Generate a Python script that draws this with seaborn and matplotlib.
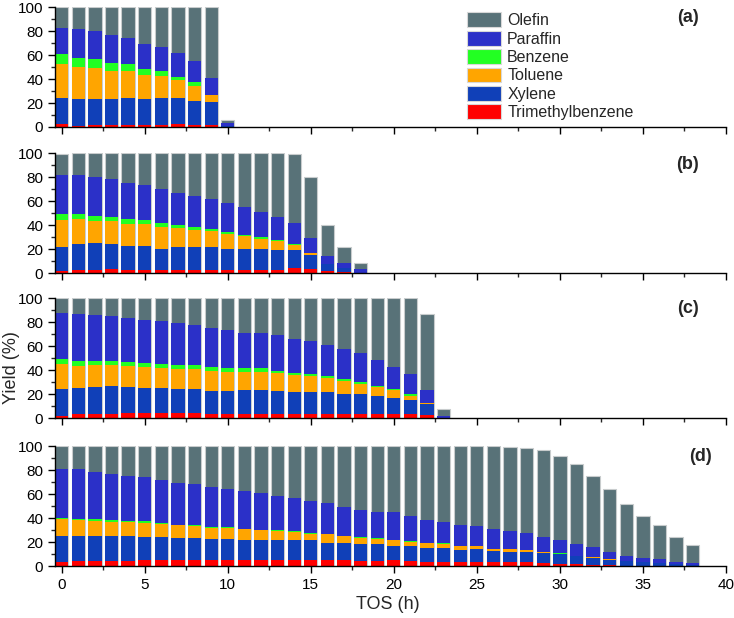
"""
Stacked yield vs TOS for four catalysts, panels (a)-(d).
Values are stack boundaries (cumulative %) read off the figure.
"""

import numpy as np
import matplotlib.pyplot as plt
import seaborn as sns
from matplotlib.patches import Patch
from matplotlib.ticker import MultipleLocator

# ── Dados (limites cumulativos das camadas, %) ───────────────────────────────

# painel (a): TOS 0..10 h
a_tmb = [2.2, 1.0, 1.7, 1.7, 2.0, 2.0, 2.0, 2.8, 2.0, 2.0, 0.0]
a_xyl = [24, 23, 23.7, 23.5, 24.6, 23, 24, 24.6, 21.8, 21.2, 1.0]
a_tol = [52.5, 50, 49, 47, 47, 43.6, 42.5, 39, 34.4, 26.3, 1.0]
a_ben = [61, 57.5, 56.7, 53.6, 52.8, 48.6, 47, 42, 37.7, 27, 1.0]
a_par = [82.7, 82, 80, 77, 74, 69.5, 66.8, 61.7, 54.7, 41, 3.0]
a_tot = [100, 100, 100, 100, 100, 100, 100, 100, 100, 100, 5.5]

# painel (b): TOS 0..18 h
b_tmb = [2, 3, 3, 3.3, 3, 3, 2.8, 2.8, 3, 3, 3, 3, 3, 3, 3.9, 3.6, 2, 1, 0]
b_xyl = [22, 24.4, 25, 24.7, 22.8, 22.8, 20.5, 21.7, 21.4, 21.4, 20.3, 20, 20,
         19.2, 19.4, 15, 7.8, 4.4, 0.3]
b_tol = [44, 45, 43.6, 43.3, 41.4, 40.8, 38.3, 37.8, 35.8, 35, 32.8, 30.8, 28.9,
         26.9, 23.3, 16.7, 7.8, 4.4, 0.3]
b_ben = [49, 49.4, 47.8, 47.2, 45, 44.4, 42, 40.5, 38.3, 37, 34.4, 32.2, 30,
         27.5, 24, 17, 7.8, 4.4, 0.3]
b_par = [82, 82, 80.5, 78.3, 75.5, 73.9, 70.3, 67.2, 64.4, 61.7, 58.3, 55, 51.4,
         47, 42.2, 29.7, 14.4, 8.6, 3.3]
b_tot = [99.5, 100, 100, 100, 100, 100, 100, 100, 100, 100, 100, 100, 100, 100,
         99.4, 80.5, 40.3, 21.7, 8.6]

# painel (c): TOS 0..23 h
c_tmb = [1.9, 3, 3.3, 3.6, 3.9, 3.9, 3.9, 3.9, 3.9, 3.3, 3.3, 3.3, 3.3, 3.3,
         3.6, 3.3, 3.3, 3, 3, 3, 3, 3, 2.2, 0]
c_xyl = [24.6, 25.1, 26.2, 26.8, 26.2, 24.9, 24.9, 24.3, 24.3, 22.9, 22.9, 23.5,
         23.5, 22.7, 21.5, 22.1, 21.3, 20.2, 20.2, 18.5, 16.9, 15.2, 11.6, 0.3]
c_tol = [44.8, 43.4, 44.2, 43.9, 43.4, 42.5, 42, 41.2, 41.2, 39.2, 38.7, 38.7,
         38.7, 37.3, 35.9, 35, 33.1, 31.2, 28.5, 26.2, 23.5, 18.2, 12.4, 0.3]
c_ben = [48.9, 47.2, 47.8, 47.2, 46.7, 45.6, 45, 44.2, 43.9, 42.3, 41.7, 41.4,
         41.4, 39.5, 37.6, 36.5, 34.8, 32.3, 29.8, 27, 24, 20.2, 12.7, 0.3]
c_par = [87.3, 86.5, 85.6, 84.8, 83.1, 82, 80.7, 79, 77.3, 74.9, 73.2, 71, 71,
         69, 66.3, 64.4, 61, 57.5, 53.9, 48, 42.5, 37, 23.2, 1.4]
c_tot = [100] * 22 + [87, 7.7]

# painel (d): TOS 0..38 h
d_tmb = [3.6, 3.9, 4.1, 4.1, 4.4, 4.7, 4.7, 4.7, 5, 4.7, 5, 5, 5, 5, 5, 5.2, 5,
         5, 4.4, 4.4, 4.7, 4.1, 3.6, 3.6, 3.6, 3.6, 3.3, 3, 3, 2.2, 1.9, 1.7,
         1.1, 0.6, 0.3, 0.3, 0, 0, 0]
d_xyl = [25.1, 24.9, 25.1, 24.9, 24.9, 24.3, 23.8, 23.2, 23.5, 22.4, 22.4, 22.1,
         21.8, 21.8, 21.3, 21.3, 19.6, 19.1, 18, 18, 17.1, 16.6, 15.2, 15.2,
         13.5, 13.8, 12.4, 11.9, 11.6, 10.5, 9.7, 8.3, 6.9, 5.2, 4.1, 3.6, 2.5,
         1.4, 1.1]
d_tol = [39, 38.1, 37.8, 37, 36.7, 35.9, 35.1, 34, 33.4, 31.8, 32, 30.7, 29.8,
         29.6, 28.5, 27.1, 26.5, 25.1, 23.5, 22.9, 21.8, 20.4, 18.8, 18.2, 16.6,
         16.6, 14.4, 13.8, 13.3, 11.3, 10.2, 8.6, 7.2, 5.5, 4.1, 3.6, 2.5, 1.4,
         1.1]
d_ben = [40.3, 39.5, 39.2, 38.4, 37.8, 37.3, 35.9, 34.5, 34.3, 32.3, 32.9, 31.2,
         30.1, 30.1, 29, 27.6, 26.8, 25.4, 23.8, 23.5, 22.1, 20.7, 19.3, 18.8,
         16.9, 16.9, 14.6, 14.1, 13.5, 11.6, 10.5, 8.6, 7.2, 5.5, 4.1, 3.6, 2.5,
         1.4, 1.1]
d_par = [81.2, 80.7, 78.2, 77.1, 75.4, 74, 72.1, 69.6, 68.5, 65.7, 64.6, 62.7,
         60.8, 58.8, 56.4, 54.1, 52.2, 49.2, 47, 45, 44.8, 41.4, 38.7, 37, 34.5,
         33.1, 30.9, 29.6, 27.6, 24.6, 22.1, 18, 15.5, 11.9, 8.6, 6.4, 5.5, 3.6,
         2.8]
d_tot = [100] * 27 + [99.4, 98.6, 96.4, 92, 84.8, 75.1, 64.1, 51.9, 41.7, 34.3,
                      24, 17.7]

PANELS = [
    ("(a)", [a_tot, a_par, a_ben, a_tol, a_xyl, a_tmb]),
    ("(b)", [b_tot, b_par, b_ben, b_tol, b_xyl, b_tmb]),
    ("(c)", [c_tot, c_par, c_ben, c_tol, c_xyl, c_tmb]),
    ("(d)", [d_tot, d_par, d_ben, d_tol, d_xyl, d_tmb]),
]

SERIES = ["Olefin", "Paraffin", "Benzene", "Toluene", "Xylene", "Trimethylbenzene"]
COLORS = ["#587278", "#2b30c8", "#22ff22", "#ffa500", "#1040b8", "#ff0000"]

# ── Estilo ────────────────────────────────────────────────────────────────────

sns.set_theme(style="ticks")
plt.rcParams["font.family"] = ["Liberation Sans", "DejaVu Sans"]
plt.rcParams["font.size"] = 11

fig = plt.figure(figsize=(7.34, 6.18), dpi=100)

bottoms = [0.7945, 0.558, 0.3236, 0.0841]
tag_x = [0.943, 0.943, 0.943, 0.962]
axes = [fig.add_axes([0.075, b, 0.914, 0.194]) for b in bottoms]

for ax, (tag, layers), tx in zip(axes, PANELS, tag_x):
    hours = np.arange(len(layers[0]))
    # camadas desenhadas da maior para a menor -> aparência empilhada
    for i, (vals, col) in enumerate(zip(layers, COLORS)):
        sns.barplot(x=hours, y=vals, color=col, saturation=1,
                    native_scale=True, width=0.8, errorbar=None, ax=ax,
                    edgecolor="#c8cccd" if i == 0 else col,
                    linewidth=0.8 if i == 0 else 0)
    ax.set_xlim(-0.4, 40)
    ax.set_ylim(0, 100)
    ax.set_xlabel("")
    ax.set_ylabel("")
    ax.xaxis.set_major_locator(MultipleLocator(5))
    ax.xaxis.set_minor_locator(MultipleLocator(2.5))
    ax.yaxis.set_major_locator(MultipleLocator(20))
    ax.yaxis.set_minor_locator(MultipleLocator(10))
    ax.tick_params(which="major", length=5, width=1, labelsize=11, colors="black")
    ax.tick_params(which="minor", length=3, width=1)
    sns.despine(ax=ax)
    for s in ("left", "bottom"):
        ax.spines[s].set_color("black")
        ax.spines[s].set_linewidth(1)
    ax.text(tx, 0.91, tag, transform=ax.transAxes, ha="center", va="center",
            fontsize=13, fontweight="bold")
    if ax is not axes[-1]:
        ax.tick_params(axis="x", labelbottom=False)

handles = [Patch(facecolor=c, edgecolor="#d8d8d8", linewidth=0.8) for c in COLORS]
axes[0].legend(handles, SERIES, loc="upper left", bbox_to_anchor=(0.605, 1.01),
               frameon=False, fontsize=11.5, handlelength=2.1, handleheight=1.05,
               labelspacing=0.16, handletextpad=0.4, borderaxespad=0)

fig.text(0.016, 0.405, "Yield (%)", rotation=90, ha="center", va="center", fontsize=13)
fig.text(0.529, 0.022, "TOS (h)", ha="center", va="center", fontsize=13)

fig.savefig("out.png", dpi=100)
plt.close(fig)
